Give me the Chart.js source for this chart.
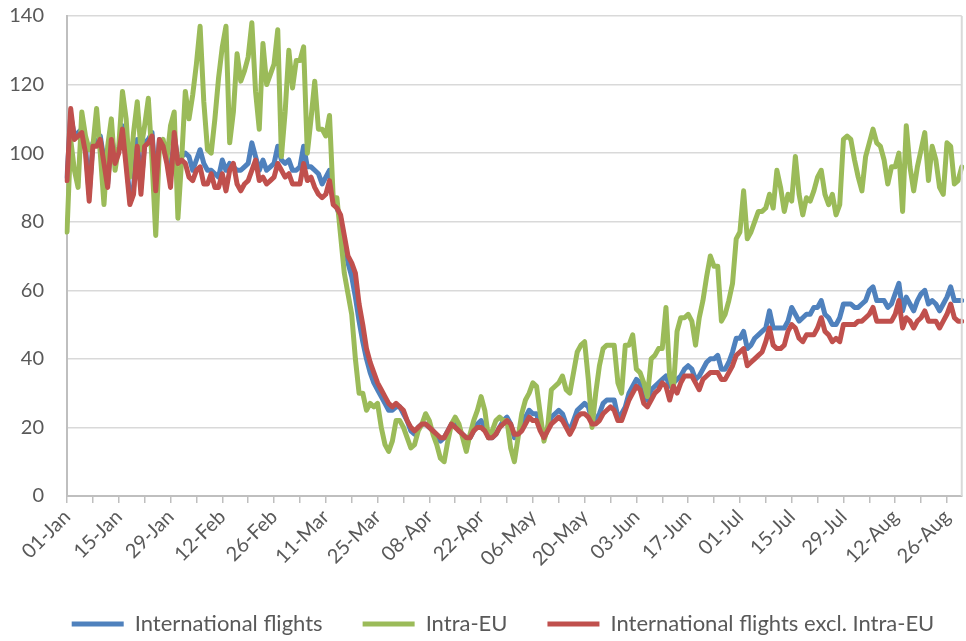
<!DOCTYPE html>
<html>
<head>
<meta charset="utf-8">
<script src="https://cdn.jsdelivr.net/npm/chart.js@4.4.1/dist/chart.umd.min.js"></script>
<style>
  html, body { margin: 0; padding: 0; background: #fff; }
  #wrap { width: 966px; height: 641px; position: relative; }
</style>
</head>
<body>
<div id="wrap"><canvas id="chart"></canvas></div>
<script>
// daily values, 01-Jan .. 30-Aug (index)
const tickLabels = ['01-Jan', '15-Jan', '29-Jan', '12-Feb', '26-Feb', '11-Mar', '25-Mar', '08-Apr', '22-Apr',
    '06-May', '20-May', '03-Jun', '17-Jun', '01-Jul', '15-Jul', '29-Jul', '12-Aug', '26-Aug'];
const labelEvery = 14;
const tickEvery = 7;

const international = [
    93, 111, 105, 106, 107, 102, 88, 103, 103, 105,
    98, 91, 105, 99, 101, 108, 98, 87, 90, 104,
    90, 103, 104, 106, 91, 104, 103, 99, 93, 105,
    98, 99, 100, 99, 95, 98, 101, 97, 95, 95,
    94, 93, 98, 95, 97, 96, 95, 95, 96, 97,
    103, 99, 95, 98, 95, 96, 97, 102, 98, 97,
    98, 95, 95, 96, 102, 96, 96, 95, 94, 91,
    93, 95, 86, 84, 81, 74, 68, 64, 58, 51,
    45, 40, 36, 33, 31, 29, 27, 25, 25, 26,
    26, 24, 22, 19, 18, 20, 21, 21, 20, 19,
    17, 16, 17, 19, 21, 21, 19, 18, 17, 17,
    19, 21, 22, 20, 17, 17, 18, 20, 22, 23,
    21, 17, 18, 20, 23, 25, 24, 24, 20, 18,
    20, 23, 24, 25, 24, 21, 19, 22, 25, 26,
    27, 26, 22, 22, 24, 27, 28, 28, 28, 23,
    24, 26, 30, 32, 34, 33, 28, 28, 31, 32,
    33, 34, 35, 32, 33, 34, 35, 37, 38, 37,
    34, 35, 37, 39, 40, 40, 41, 37, 37, 39,
    42, 46, 46, 48, 43, 44, 46, 47, 48, 49,
    54, 49, 49, 49, 49, 51, 55, 53, 51, 52,
    53, 53, 55, 55, 57, 53, 52, 50, 50, 52,
    56, 56, 56, 55, 55, 56, 57, 60, 61, 57,
    57, 57, 55, 56, 59, 62, 54, 58, 56, 54,
    57, 59, 60, 56, 57, 56, 54, 56, 58, 61,
    57, 57, 57
];

const intraEU = [
    77, 104, 95, 90, 112, 105, 101, 102, 113, 100,
    85, 102, 110, 95, 102, 118, 110, 93, 106, 115,
    101, 108, 116, 98, 76, 102, 104, 98, 108, 112,
    81, 98, 118, 110, 117, 126, 137, 115, 101, 100,
    110, 122, 131, 137, 103, 112, 129, 121, 124, 128,
    138, 118, 107, 132, 120, 123, 126, 136, 99, 112,
    130, 119, 127, 127, 131, 100, 110, 121, 107, 107,
    105, 111, 87, 87, 76, 65, 59, 53, 40, 30,
    30, 25, 27, 26, 27, 20, 15, 13, 16, 22,
    22, 20, 17, 14, 15, 19, 21, 24, 22, 18,
    15, 11, 10, 16, 21, 23, 21, 17, 13, 18,
    22, 25, 29, 25, 17, 19, 22, 23, 22, 22,
    14, 10, 17, 24, 28, 30, 33, 32, 24, 16,
    20, 31, 32, 33, 35, 31, 30, 36, 42, 44,
    45, 34, 20, 30, 38, 43, 44, 44, 44, 33,
    30, 44, 44, 47, 37, 36, 33, 29, 40, 41,
    43, 43, 55, 35, 31, 48, 52, 52, 53, 51,
    44, 52, 57, 64, 70, 67, 67, 51, 53, 57,
    62, 75, 77, 89, 75, 77, 80, 83, 83, 84,
    88, 84, 95, 90, 83, 88, 86, 99, 88, 82,
    87, 86, 89, 93, 95, 88, 85, 88, 82, 85,
    104, 105, 104, 98, 93, 89, 99, 103, 107, 103,
    102, 98, 91, 96, 96, 100, 83, 108, 96, 89,
    96, 101, 106, 92, 102, 98, 90, 88, 103, 102,
    91, 92, 96
];

const internationalExclEU = [
    92, 113, 104, 105, 106, 100, 86, 102, 102, 104,
    97, 90, 104, 97, 100, 107, 96, 85, 88, 102,
    88, 102, 103, 105, 89, 104, 102, 97, 90, 106,
    97, 98, 97, 93, 92, 95, 96, 91, 91, 94,
    90, 90, 94, 89, 95, 97, 91, 89, 91, 92,
    95, 98, 92, 93, 91, 92, 93, 97, 95, 93,
    94, 91, 91, 91, 97, 92, 93, 90, 88, 87,
    88, 92, 85, 84, 82, 76, 70, 68, 65, 56,
    50, 43, 39, 36, 33, 31, 29, 27, 26, 27,
    26, 25, 22, 20, 19, 20, 21, 21, 20, 19,
    18, 17, 17, 19, 21, 20, 19, 18, 17, 17,
    19, 20, 20, 19, 17, 17, 18, 20, 21, 22,
    21, 18, 18, 19, 21, 23, 22, 22, 19, 17,
    19, 21, 22, 23, 22, 20, 18, 20, 23, 24,
    24, 23, 21, 21, 22, 24, 25, 26, 25, 22,
    22, 25, 28, 30, 32, 31, 27, 26, 28, 30,
    31, 33, 32, 28, 32, 30, 33, 35, 35, 35,
    33, 31, 34, 35, 36, 36, 36, 34, 34, 36,
    38, 41, 42, 43, 38, 39, 40, 41, 42, 45,
    49, 44, 43, 43, 44, 48, 50, 49, 46, 45,
    47, 47, 47, 49, 52, 48, 47, 45, 46, 45,
    50, 50, 50, 50, 51, 51, 52, 53, 55, 51,
    51, 51, 51, 51, 53, 57, 49, 52, 51, 49,
    51, 52, 54, 51, 51, 51, 49, 51, 53, 56,
    52, 51, 51
];

const yTicks = { min: 0, max: 140, step: 20 };

(function() {
    'use strict';

    const TEXT = '#595959';
    const FONT = { family: 'Lato', size: 20 };
    const PAD_LEFT = 8;

    // one category per day; only every 14th gets a label, every 7th a tick mark
    const days = international.map((_, i) => i % labelEvery === 0 ? tickLabels[i / labelEvery] : '');

    // right-hand border of the plot area
    const plotBorder = {
        id: 'plotBorder',
        afterDraw(chart) {
            const { ctx, chartArea: a } = chart;
            ctx.save();
            ctx.strokeStyle = '#d9d9d9';
            ctx.lineWidth = 2;
            ctx.beginPath();
            ctx.moveTo(a.right, a.top);
            ctx.lineTo(a.right, a.bottom);
            ctx.stroke();
            ctx.restore();
        }
    };

    // nudge the legend a little right / down, like the original
    const legendShift = {
        id: 'legendShift',
        afterLayout(chart) {
            const lg = chart.legend;
            if (!lg) return;
            lg.left += 18; lg.right += 18;
            lg.top += 4; lg.bottom += 4;
        }
    };

    const line = (label, data, color, order) => ({
        label, data, order,
        borderColor: color, backgroundColor: color,
        borderWidth: 5, pointRadius: 0, tension: 0,
        borderJoinStyle: 'round', borderCapStyle: 'round'
    });

    new Chart(document.getElementById('chart'), {
        type: 'line',
        data: {
            labels: days,
            datasets: [
                line('International flights', international, '#4F81BD', 3),
                line('Intra-EU', intraEU, '#9BBB59', 2),
                line('International flights excl. Intra-EU', internationalExclEU, '#C0504D', 1)
            ]
        },
        options: {
            responsive: true, maintainAspectRatio: false, animation: false,
            layout: { padding: { left: PAD_LEFT, right: 4, top: 16, bottom: 0 } },
            plugins: {
                tooltip: { enabled: false },
                legend: {
                    position: 'bottom',
                    labels: {
                        color: TEXT, font: { family: 'Lato', size: 22 },
                        boxWidth: 52, boxHeight: 5, padding: 40,
                        sort: (a, b) => a.datasetIndex - b.datasetIndex,
                        generateLabels: chart => Chart.defaults.plugins.legend.labels.generateLabels(chart)
                            .map(l => Object.assign(l, { lineWidth: 0, fillStyle: l.strokeStyle }))
                    }
                }
            },
            scales: {
                x: {
                    grid: { drawOnChartArea: false, drawTicks: true, tickLength: 7, color: '#bfbfbf', lineWidth: 1.5 },
                    border: { color: '#bfbfbf', width: 2 },
                    ticks: {
                        autoSkip: false, maxRotation: 45, minRotation: 45, padding: 2,
                        color: TEXT, font: FONT,
                        callback: (v, i) => i % labelEvery === 0 ? tickLabels[i / labelEvery]
                            : (i % tickEvery === 0 ? '' : null)
                    },
                    afterFit: s => { s.height = 73; }
                },
                y: {
                    min: yTicks.min, max: yTicks.max,
                    grid: { color: '#d9d9d9', lineWidth: 1.5, drawTicks: false },
                    border: { color: '#bfbfbf', width: 2 },
                    ticks: { stepSize: yTicks.step, padding: 23, color: TEXT, font: FONT },
                    afterFit: s => {
                        s.width = 67 - PAD_LEFT;
                        s.paddingTop = 0; s.paddingBottom = 0;
                    }
                }
            }
        },
        plugins: [plotBorder, legendShift]
    });
})();
</script>
</body>
</html>
